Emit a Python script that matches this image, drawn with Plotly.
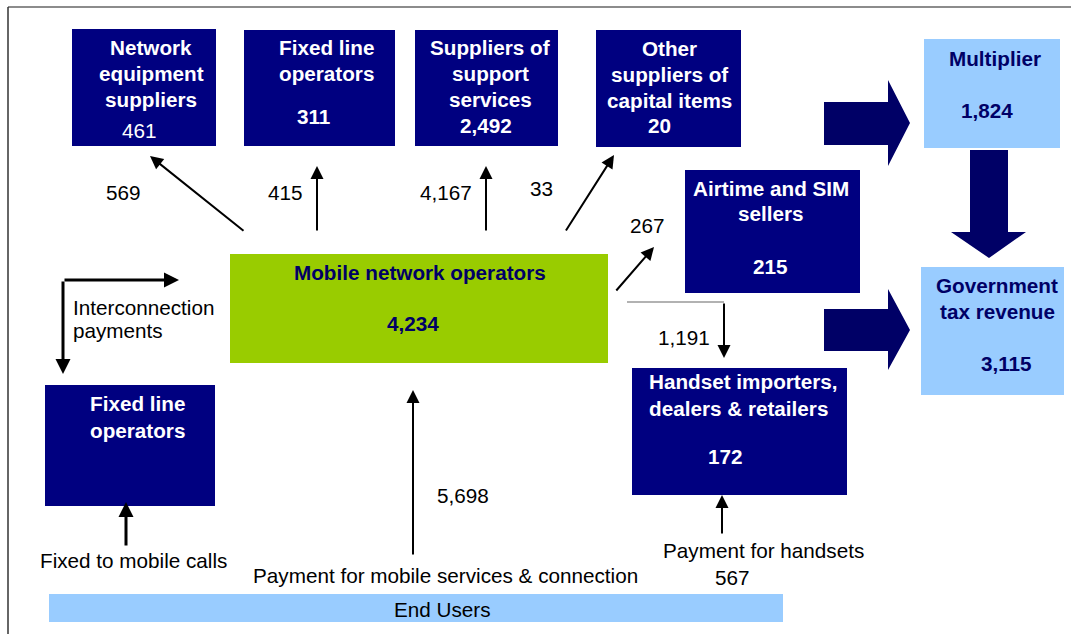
import plotly.graph_objects as go

# ---- data ----
box_titles = [
    ["Network", "equipment", "suppliers"],
    ["Fixed line", "operators"],
    ["Suppliers of", "support", "services"],
    ["Other", "suppliers of", "capital items"],
    ["Multiplier"],
    ["Government", "tax revenue"],
    ["Airtime and SIM", "sellers"],
    ["Mobile network operators"],
    ["Fixed line", "operators"],
    ["Handset importers,", "dealers & retailers"],
]
box_values = ["461", "311", "2,492", "20", "1,824", "3,115", "215", "4,234", "", "172"]

flow_values = ["569", "415", "4,167", "33", "267", "1,191", "5,698", "567"]
flow_notes = ["Interconnection", "payments", "Fixed to mobile calls",
              "Payment for mobile services & connection", "Payment for handsets"]
base_label = "End Users"

# ---- layout geometry (pixels, y down) ----
NAVY = "#000080"
DARK = "#000066"
LIGHT = "#99CCFF"
GREEN = "#99CC00"
FONT = "Liberation Sans, Arial, sans-serif"
FS = 20.7

box_rects = [(72, 29, 216, 146), (244, 30, 395, 146), (415, 30, 558, 146),
             (596, 30, 741, 147), (924, 39, 1060, 148), (921, 267, 1064, 395),
             (685, 170, 860, 293), (230, 254, 608, 363), (45, 385, 215, 506),
             (632, 368, 847, 495)]
box_fills = [NAVY, NAVY, NAVY, NAVY, LIGHT, LIGHT, NAVY, GREEN, NAVY, NAVY]
box_text = ["white", "white", "white", "white", DARK, DARK, "white", DARK, "white", "white"]
# title: x, first line y, line step (None = one block), anchor
title_pos = [(151, 47, 26, "center"), (326, 47, 26, "center"), (490, 47, 26, "center"),
             (669, 48, 26, "center"), (995, 58, 26, "center"), (997, 285, 26, "center"),
             (771, 188, 25, "center"), (420, 272, 26, "center"), (137, 403, 27, "center"),
             (647, 395, None, "left")]
value_pos = [(139, 130), (313, 116), (486, 125), (659, 125), (987, 110),
             (1006, 363), (770, 266), (413, 323), None, (725, 456)]
value_bold = [False, True, True, True, True, True, True, True, True, True]

flow_pos = [(123, 192), (285, 192), (446, 192), (541, 188), (647, 225),
            (684, 337), (463, 495), (732, 577)]
note_pos = [(71, 307, "left"), (71, 330, "left"), (133, 560, "center"),
            (445, 575, "center"), (763, 550, "center")]

# arrows: head x, head y, tail x, tail y, width
arrows = [(150, 156, 245, 232, 2), (317, 166, 317, 232, 2), (486, 166, 486, 232, 2),
          (614, 155, 565, 232, 2), (654, 247, 615, 292, 2), (413, 390, 413, 556, 2),
          (722, 495, 722, 535, 2), (126, 502, 126, 547, 3), (179, 280, 63, 280, 3),
          (63, 374, 63, 280, 3), (724, 358, 724, 302, 2)]

fig = go.Figure()
shapes = []
annotations = []

# frame (only top and left edges fall inside the picture)
shapes.append(dict(type="line", x0=8, y0=7, x1=1071, y1=7, line=dict(color="#666666", width=1.5)))
shapes.append(dict(type="line", x0=8, y0=7, x1=8, y1=634, line=dict(color="#333333", width=1.5)))

for (x0, y0, x1, y1), c in zip(box_rects, box_fills):
    shapes.append(dict(type="rect", x0=x0, y0=y0, x1=x1, y1=y1,
                       line=dict(width=0), fillcolor=c))

# end users bar
shapes.append(dict(type="rect", x0=49, y0=594, x1=783, y1=622, line=dict(width=0), fillcolor=LIGHT))

# big block arrows
shapes.append(dict(type="path", path="M 824 102 L 888 102 L 888 80 L 910 123 L 888 166 L 888 145 L 824 145 Z",
                   fillcolor=DARK, line=dict(width=0)))
shapes.append(dict(type="path", path="M 824 309 L 888 309 L 888 289 L 910 330 L 888 370 L 888 351 L 824 351 Z",
                   fillcolor=DARK, line=dict(width=0)))
shapes.append(dict(type="path", path="M 970 150 L 1008 150 L 1008 232 L 1026 232 L 989 258 L 951 232 L 970 232 Z",
                   fillcolor=DARK, line=dict(width=0)))

# thin connector to handset box
shapes.append(dict(type="line", x0=627, y0=302, x1=724, y1=302, line=dict(color="#666666", width=1.2)))

for i, lines in enumerate(box_titles):
    x, y, step, anc = title_pos[i]
    font = dict(family=FONT, size=FS, color=box_text[i])
    if step is None:
        annotations.append(dict(x=x, y=y, text="<br>".join("<b>" + t + "</b>" for t in lines),
                                showarrow=False, xanchor=anc, yanchor="middle", align=anc, font=font))
    else:
        for k, t in enumerate(lines):
            annotations.append(dict(x=x, y=y + k * step, text="<b>" + t + "</b>", showarrow=False,
                                    xanchor=anc, yanchor="middle", font=font))
    if value_pos[i] is not None and box_values[i]:
        vx, vy = value_pos[i]
        v = "<b>" + box_values[i] + "</b>" if value_bold[i] else box_values[i]
        annotations.append(dict(x=vx, y=vy, text=v, showarrow=False,
                                xanchor="center", yanchor="middle", font=font))

for v, (x, y) in zip(flow_values, flow_pos):
    annotations.append(dict(x=x, y=y, text=v, showarrow=False, xanchor="center", yanchor="middle",
                            font=dict(family=FONT, size=FS, color="black")))

for t, (x, y, anc) in zip(flow_notes, note_pos):
    annotations.append(dict(x=x, y=y, text=t, showarrow=False, xanchor=anc, yanchor="middle",
                            font=dict(family=FONT, size=FS, color="black")))

annotations.append(dict(x=442, y=609, text=base_label, showarrow=False, xanchor="center",
                        yanchor="middle", font=dict(family=FONT, size=FS, color="black")))

for hx, hy, tx, ty, w in arrows:
    annotations.append(dict(x=hx, y=hy, ax=tx, ay=ty, xref="x", yref="y", axref="x", ayref="y",
                            text="", showarrow=True, arrowhead=2, arrowsize=1.3 if w == 2 else 1.0,
                            arrowwidth=w, arrowcolor="black", standoff=0))

fig.update_layout(
    width=1071, height=634,
    margin=dict(l=0, r=0, t=0, b=0),
    paper_bgcolor="white", plot_bgcolor="white",
    xaxis=dict(range=[0, 1071], visible=False, fixedrange=True),
    yaxis=dict(range=[634, 0], visible=False, fixedrange=True),
    shapes=shapes, annotations=annotations,
    showlegend=False,
)

fig.write_html("out.html", config={"displayModeBar": False},
               post_script="document.body.style.margin='0';document.body.style.overflow='hidden';")
